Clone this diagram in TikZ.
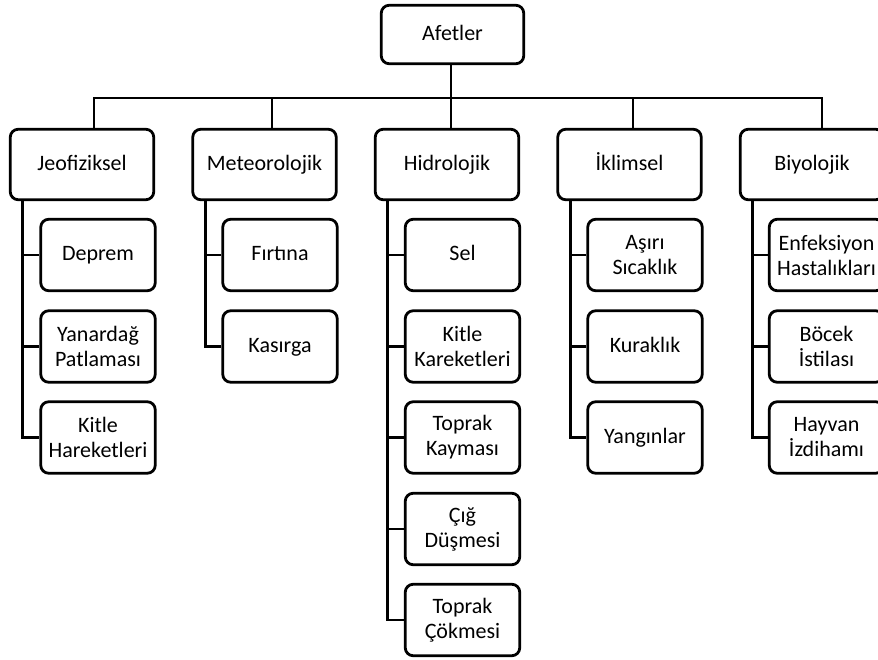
\documentclass[tikz,border=0pt]{standalone}
\usepackage{fontspec}
\setmainfont{Carlito}
\begin{document}
\begin{tikzpicture}[x=1pt,y=-1pt,line width=2.8pt,
		box/.style={draw,rounded corners=8pt,align=center,inner sep=2pt,font=\fontsize{22}{25}\selectfont},
		one/.style={text height=16pt,text depth=4pt},
		grp/.style={box,one,minimum width=143.5pt,minimum height=70.5pt},
		sub/.style={box,minimum width=114.5pt,minimum height=71.5pt}]
	\useasboundingbox (0,0) rectangle (878,660);
	% top
	\node[box,one,minimum width=142.5pt,minimum height=58.5pt] (afet) at (452.5,34.5) {Afetler};
	% groups
	\node[grp] (jeo) at (82,164.5)    {Jeofiziksel};
	\node[grp] (met) at (264.5,164.5) {Meteorolojik};
	\node[grp] (hid) at (447,164.5)   {Hidrolojik};
	\node[grp] (ikl) at (629.5,164.5) {İklimsel};
	\node[grp] (biy) at (812,164.5)   {Biyolojik};
	% bus
	\coordinate (b1) at (94,98);
	\coordinate (b2) at (272,98);
	\coordinate (b3) at (451,98);
	\coordinate (b4) at (633,98);
	\coordinate (b5) at (822,98);
	\draw (afet.south -| b3) -- (b3);
	\draw (b1 |- jeo.north) -- (b1) -- (b5) -- (b5 |- biy.north);
	\draw (b2) -- (b2 |- met.north);
	\draw (b3) -- (b3 |- hid.north);
	\draw (b4) -- (b4 |- ikl.north);
	% Jeofiziksel
	\node[sub,one] (jeo1) at (98,255) {Deprem};
	\node[sub] (jeo2) at (98,346.5)   {Yanardağ\\Patlaması};
	\node[sub] (jeo3) at (98,437.5)   {Kitle\\Hareketleri};
	\draw ([xshift=14pt]jeo.south west) coordinate (s1) |- (jeo3.west);
	\draw (jeo1.west) -- (jeo1.west -| s1);
	\draw (jeo2.west) -- (jeo2.west -| s1);
	% Meteorolojik
	\node[sub,one] (met1) at (280,255)   {Fırtına};
	\node[sub,one] (met2) at (280,346.5) {Kasırga};
	\draw ([xshift=14pt]met.south west) coordinate (s2) |- (met2.west);
	\draw (met1.west) -- (met1.west -| s2);
	% Hidrolojik
	\node[sub,one] (hid1) at (462.5,255) {Sel};
	\node[sub] (hid2) at (462.5,346.5)   {Kitle\\Kareketleri};
	\node[sub] (hid3) at (462.5,437.5)   {Toprak\\Kayması};
	\node[sub] (hid4) at (462.5,529)     {Çığ\\Düşmesi};
	\node[sub] (hid5) at (462.5,620)     {Toprak\\Çökmesi};
	\draw ([xshift=14pt]hid.south west) coordinate (s3) |- (hid5.west);
	\draw (hid1.west) -- (hid1.west -| s3);
	\draw (hid2.west) -- (hid2.west -| s3);
	\draw (hid3.west) -- (hid3.west -| s3);
	\draw (hid4.west) -- (hid4.west -| s3);
	% Iklimsel
	\node[sub] (ikl1) at (645,255)       {Aşırı\\Sıcaklık};
	\node[sub,one] (ikl2) at (645,346.5) {Kuraklık};
	\node[sub,one] (ikl3) at (645,437.5) {Yangınlar};
	\draw ([xshift=14pt]ikl.south west) coordinate (s4) |- (ikl3.west);
	\draw (ikl1.west) -- (ikl1.west -| s4);
	\draw (ikl2.west) -- (ikl2.west -| s4);
	% Biyolojik
	\node[sub] (biy1) at (826.5,255)   {Enfeksiyon\\Hastalıkları};
	\node[sub] (biy2) at (826.5,346.5) {Böcek\\İstilası};
	\node[sub] (biy3) at (826.5,437.5) {Hayvan\\İzdihamı};
	\draw ([xshift=14pt]biy.south west) coordinate (s5) |- (biy3.west);
	\draw (biy1.west) -- (biy1.west -| s5);
	\draw (biy2.west) -- (biy2.west -| s5);
\end{tikzpicture}
\end{document}
